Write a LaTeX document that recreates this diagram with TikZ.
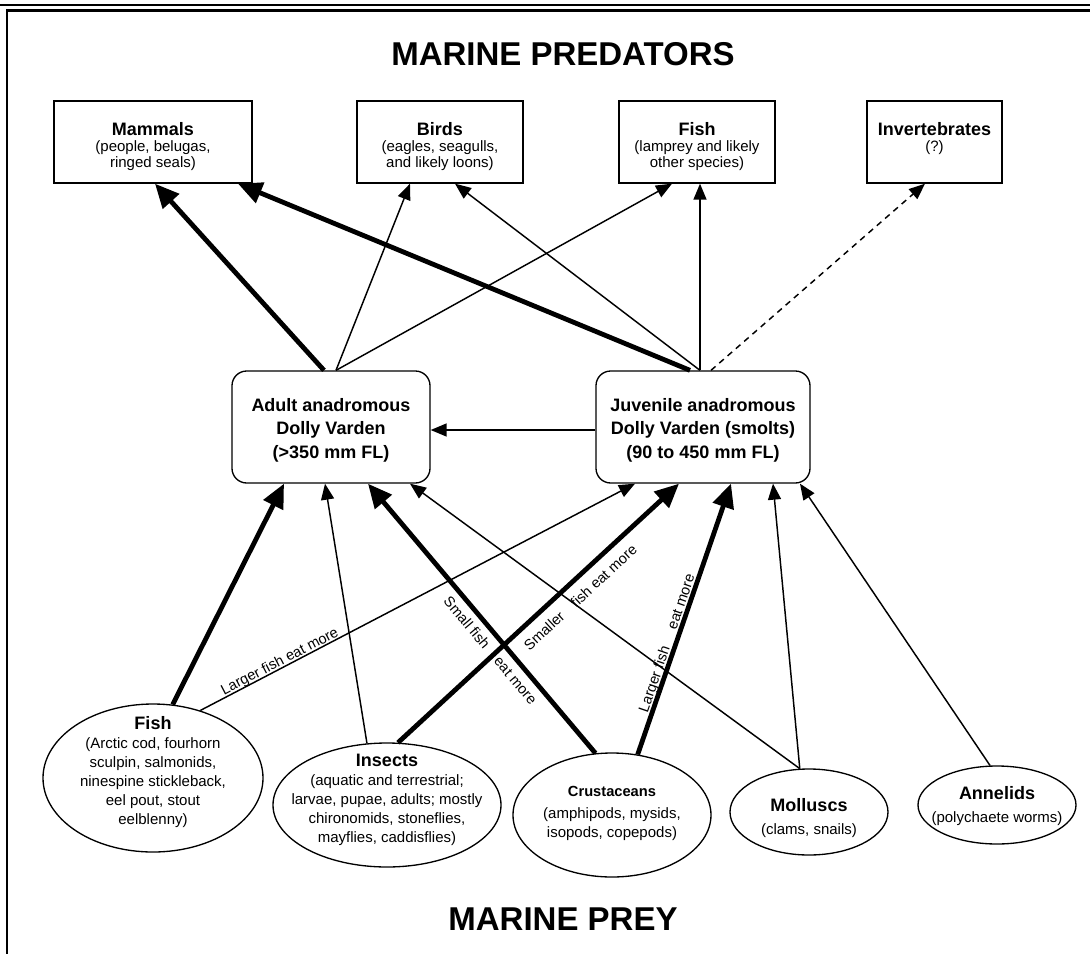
\documentclass[tikz,border=0pt]{standalone}
\usepackage{fontspec}
\setmainfont{Liberation Sans}
\usetikzlibrary{arrows.meta,calc,shapes.geometric}
\newcommand\hd[1]{{\fontsize{13.5}{12}\selectfont\bfseries #1}}
\begin{document}
\begin{tikzpicture}[x=0.75pt,y=-0.75pt,
  frameline/.style={line width=1.9pt},
  topbox/.style={draw,line width=1pt,rectangle,minimum height=61.5pt,inner sep=0pt},
  midbox/.style={draw,line width=1pt,rectangle,rounded corners=11pt,minimum height=84pt,inner sep=0pt},
  prey/.style={draw,line width=1pt,ellipse,inner sep=0pt},
  tbtext/.style={align=center,inner sep=0pt,font=\fontsize{11.25}{12}\selectfont},
  mbtext/.style={align=center,inner sep=0pt,font=\fontsize{13.5}{17.6}\selectfont\bfseries},
  eltext/.style={align=center,inner sep=0pt,font=\fontsize{11.25}{14.25}\selectfont},
  lbl/.style={inner sep=0pt,font=\fontsize{10.9}{12}\selectfont},
  ttl/.style={inner sep=0pt,anchor=base,font=\fontsize{24.75}{28}\selectfont\bfseries},
  thin/.style={line width=1.1pt,-{Triangle[length=12pt,width=9.75pt]}},
  thick/.style={line width=3.6pt,-{Triangle[length=18pt,width=16pt]}},
  dashline/.style={line width=1.1pt,dash pattern=on 4.5pt off 3.75pt,-{Triangle[length=12pt,width=9.75pt]}}
]
\useasboundingbox (0,0) rectangle (1090,954);
% frame
\draw[frameline] (0,5) -- (1090,5);
\draw[frameline] (7,954) -- (7,10.5) -- (1090,10.5);

% titles
\node[ttl] (ttop) at (563,65) {MARINE PREDATORS};
\node[ttl] (tbot) at (563,930) {MARINE PREY};

% predator boxes
\node[topbox,minimum width=148.5pt] (mam) at (153,142) {};
\node[topbox,minimum width=124.5pt] (bird) at (440,142) {};
\node[topbox,minimum width=117pt] (pfish) at (697,142) {};
\node[topbox,minimum width=101.25pt] (inv) at (934.5,142) {};
\node[tbtext] (mamt) at (153,147) {\hd{Mammals}\\(people, belugas,\\ringed seals)};
\node[tbtext] (birdt) at (440,147) {\hd{Birds}\\(eagles, seagulls,\\and likely loons)};
\node[tbtext] (pfisht) at (697,147) {\hd{Fish}\\(lamprey and likely\\other species)};
\node[tbtext] (invt) at (934.5,139) {\hd{Invertebrates}\\(?)};

% Dolly Varden boxes
\node[midbox,minimum width=148.5pt] (adult) at (331,427) {};
\node[midbox,minimum width=160.5pt] (juv) at (703,427) {};
\node[mbtext] (adultt) at (331,430) {Adult anadromous\\Dolly Varden\\(>350 mm FL)};
\node[mbtext] (juvt) at (703,430) {Juvenile anadromous\\Dolly Varden (smolts)\\(90 to 450 mm FL)};

% prey ellipses
\node[prey,minimum width=165pt,minimum height=111pt] (fishp) at (153,778) {};
\node[prey,minimum width=171pt,minimum height=93pt] (ins) at (387,805) {};
\node[prey,minimum width=148.5pt,minimum height=93pt] (crus) at (612,815) {};
\node[prey,minimum width=118.5pt,minimum height=64.5pt] (mol) at (809,812) {};
\node[prey,minimum width=118.5pt,minimum height=58.5pt] (ann) at (997,805) {};
\node[eltext] (fishpt) at (153,772) {\hd{Fish}\\(Arctic cod, fourhorn\\sculpin, salmonids,\\ninespine stickleback,\\eel pout, stout\\eelblenny)};
\node[eltext] (inst) at (387,799.5) {\hd{Insects}\\(aquatic and terrestrial;\\larvae, pupae, adults; mostly\\chironomids, stoneflies,\\mayflies, caddisflies)};
\node[eltext] (crust) at (612,813.5) {{\fontsize{11}{12}\selectfont\bfseries Crustaceans}\\[2pt](amphipods, mysids,\\isopods, copepods)};
\node[eltext] (molt) at (809,818) {\hd{Molluscs}\\[3pt](clams, snails)};
\node[eltext] (annt) at (997,806.5) {\hd{Annelids}\\[3pt](polychaete worms)};

% predator links
\draw[thick] ($(adult.north)+(-7,0)$) -- ($(mam.south)+(2,0)$);
\draw[thin] ($(adult.north)+(5,0)$) -- ($(bird.south)+(-30,0)$);
\draw[thin] ($(adult.north)+(5,0)$) -- ($(pfish.south)+(-25,0)$);
\draw[thick] ($(juv.north)+(-13,0)$) -- ($(mam.south)+(85,0)$);
\draw[thin] ($(juv.north)+(-3,0)$) -- ($(bird.south)+(15,0)$);
\draw[thin] ($(juv.north)+(-3,0)$) -- ($(pfish.south)+(3,0)$);
\draw[dashline] ($(juv.north)+(8,0)$) -- ($(inv.south)+(-9.5,0)$);

% juvenile to adult
\draw[thin] ($(juv.west)+(0,3)$) -- ($(adult.east)+(0,3)$);

% prey links
\draw[thick] (fishp.75) -- ($(adult.south)+(-47,0)$);
\draw[thin] (fishp.55) -- ($(juv.south)+(-68,0)$);
\draw[thin] (ins.108) -- ($(adult.south)+(-6,0)$);
\draw[thick] (ins.80) -- ($(juv.south)+(-24,0)$);
\draw[thick] (crus.105) -- ($(adult.south)+(37,0)$);
\draw[thick] (crus.67) -- ($(juv.south)+(28,0)$);
\draw[thin] (mol.102) -- ($(adult.south)+(79,0)$);
\draw[thin] (mol.102) -- ($(juv.south)+(70,0)$);
\draw[thin] (ann.100) -- ($(juv.south)+(97,0)$);

% link labels
\node[lbl,rotate=27.5] (l1) at (280,662) {Larger fish eat more};
\node[lbl,rotate=-49.9] (l2) at (490.5,650.4) {Small fish\hspace*{1.06em}eat more};
\node[lbl,rotate=42.8] (l4) at (580.2,597.4) {Smaller\hspace*{1em}fish eat more};
\node[lbl,rotate=71] (l6) at (667.7,643.5) {Larger fish\hspace*{1.3em}eat more};
\end{tikzpicture}
\end{document}
